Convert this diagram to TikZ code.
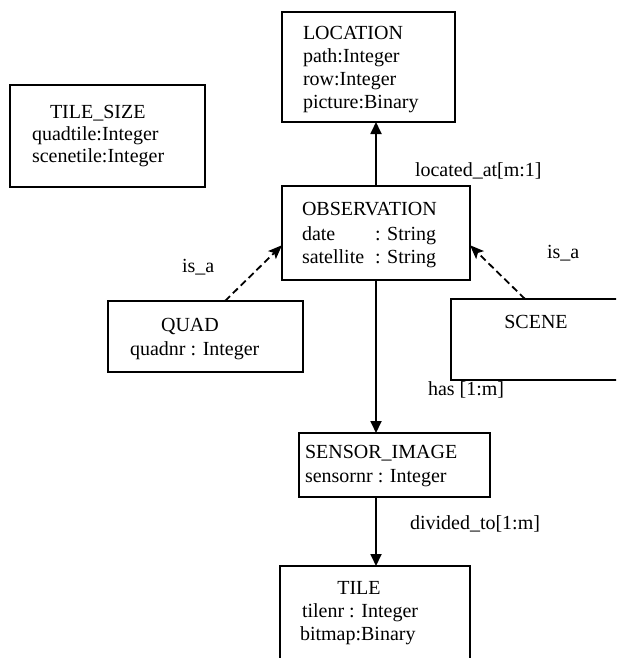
\documentclass[tikz,border=0pt]{standalone}
\usepackage{fontspec}
\setmainfont{Liberation Serif}
\usetikzlibrary{arrows.meta,calc}
\begin{document}
\begin{tikzpicture}[x=1pt,y=-1pt,
  box/.style={draw, line width=1.8pt, rectangle, inner sep=0pt, outer sep=0pt, anchor=north west},
  txt/.style={inner sep=0pt, outer sep=0pt, font=\fontsize{20}{23}\selectfont, anchor=base west},
  ttl/.style={txt, anchor=base},
  rel/.style={line width=1.8pt, -{Triangle[length=12pt,width=11pt]}},
  isa/.style={line width=1.8pt, dash pattern=on 7pt off 4pt, -{Stealth[length=14pt,width=11pt,inset=3pt]}},
]
\useasboundingbox (0,0) rectangle (616,658);
\clip (0,0) rectangle (616,658);

% boxes
\node[box, minimum width=173pt, minimum height=110pt] (loc) at (282,12) {};
\node[box, minimum width=195pt, minimum height=102pt] (tsz) at (10,85) {};
\node[box, minimum width=188pt, minimum height=94pt] (obs) at (282,186) {};
\node[box, minimum width=195pt, minimum height=71pt] (quad) at (108,301) {};
\node[box, minimum width=189pt, minimum height=81pt] (scene) at (451,299) {};
\node[box, minimum width=191pt, minimum height=64pt] (sens) at (299,433) {};
\node[box, minimum width=190pt, minimum height=113pt] (tile) at (280,566) {};

% texts
\node[txt] (loc1) at (303,40) {LOCATION};
\node[txt] (loc2) at (303,63) {path:Integer};
\node[txt] (loc3) at (303,86) {row:Integer};
\node[txt] (loc4) at (303,109) {picture:Binary};

\node[txt] (tsz1) at (50,118) {TILE\_SIZE};
\node[txt] (tsz2) at (32,140) {quadtile:Integer};
\node[txt] (tsz3) at (32,162) {scenetile:Integer};

\node[txt] (obs1) at (302,215) {OBSERVATION};
\node[txt] (obs2a) at (302,240) {date};
\node[txt] (obs2b) at (375,240) {: String};
\node[txt] (obs3a) at (302,263) {satellite};
\node[txt] (obs3b) at (375,263) {: String};

\node[ttl] (quad1) at (190,331) {QUAD};
\node[txt] (quad2) at (130,355) {quadnr : Integer};

\node[ttl] (scene1) at (536,328) {SCENE};

\node[txt] (sens1) at (305,458) {SENSOR\_IMAGE};
\node[txt] (sens2) at (305,482) {sensornr : Integer};

\node[ttl] (tile1) at (359,594) {TILE};
\node[txt] (tile2) at (302,617) {tilenr : Integer};
\node[txt] (tile3) at (300,640) {bitmap:Binary};

% connectors
\draw[rel] (obs.north) -- (obs.north |- loc.south);
\draw[rel] (obs.south) -- (obs.south |- sens.north);
\draw[rel] (obs.south |- sens.south) -- (obs.south |- tile.north);

\coordinate (qs) at ($(quad.north west)!0.6!(quad.north east)$);
\coordinate (qe) at ($(obs.south west)!0.37!(obs.north west)$);
\draw[isa] (qs) -- (qe);
\coordinate (ss) at ($(scene.north west)+(74,0)$);
\coordinate (se) at ($(obs.south east)!0.37!(obs.north east)$);
\draw[isa] (ss) -- (se);

% labels
\node[txt] (lab1) at (415,176) {located\_at[m:1]};
\node[txt] (lab2) at (428,395) {has [1:m]};
\node[txt] (lab3) at (410,529) {divided\_to[1:m]};
\node[txt] (lab4) at (182,272) {is\_a};
\node[txt] (lab5) at (547,258) {is\_a};
\end{tikzpicture}
\end{document}
